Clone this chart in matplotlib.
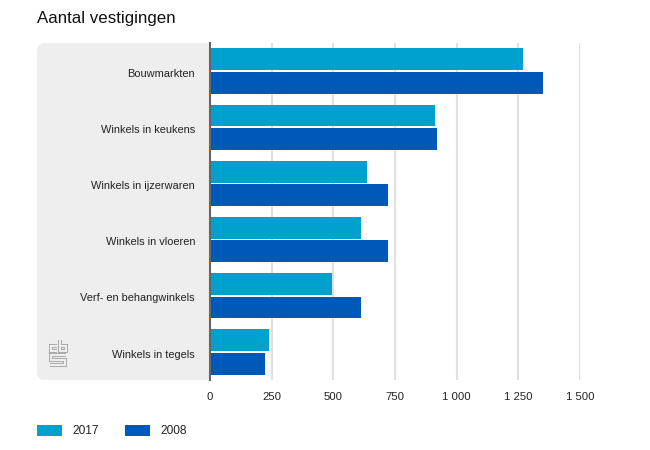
import matplotlib
matplotlib.use("Agg")
import matplotlib.pyplot as plt
import numpy as np
from matplotlib.patches import FancyBboxPatch, Rectangle

plt.rcParams['font.family'] = ['Liberation Sans', 'DejaVu Sans']

W, H = 650, 450

categories = ["Bouwmarkten", "Winkels in keukens", "Winkels in ijzerwaren",
              "Winkels in vloeren", "Verf- en behangwinkels", "Winkels in tegels"]
values_2017 = [1269, 912, 636, 612, 495, 240]
values_2008 = [1350, 920, 722, 722, 612, 223]
x_ticks = [0, 250, 500, 750, 1000, 1250, 1500]
x_labels = ["0", "250", "500", "750", "1 000", "1 250", "1 500"]

color_2017 = "#00a1cd"
color_2008 = "#0058b8"
grey_panel = "#eeeeee"
text_col = "#222222"


def fx(px):
    return px / W


def fy(py):
    return 1 - py / H


fig = plt.figure(figsize=(W / 100, H / 100), dpi=100)

# pixel coordinate layer for the panel, logo and legend
bg = fig.add_axes([0, 0, 1, 1])
bg.set_xlim(0, W)
bg.set_ylim(H, 0)
bg.axis("off")
panel = FancyBboxPatch((37, 43), 180, 337, boxstyle="round,pad=0,rounding_size=8",
                       fc=grey_panel, ec="none")
bg.add_patch(panel)
# panel is only rounded on the left
bg.add_patch(Rectangle((210, 40), 30, 345, fc="white", ec="none"))

# cbs logo, double stroke gives the outlined look
logo = [
    [(57, 346), (51, 346), (51, 351), (57, 351)],
    [(60, 340), (60, 351), (66, 351), (66, 346), (60, 346)],
    [(66, 355), (51, 355), (51, 360), (65, 360), (65, 365), (50, 365)],
]
for seg in logo:
    xs, ys = zip(*seg)
    bg.plot(xs, ys, color="#a8a8a8", lw=2.9, solid_joinstyle="miter", solid_capstyle="butt")
    bg.plot(xs, ys, color=grey_panel, lw=1.5, solid_joinstyle="miter", solid_capstyle="butt")

ax = fig.add_axes([fx(210), fy(380), fx(370), 337 / H])
ax.patch.set_alpha(0)
y = np.arange(len(categories))
ax.barh(y - 0.21, values_2017, height=0.39, color=color_2017, zorder=3)
ax.barh(y + 0.21, values_2008, height=0.39, color=color_2008, zorder=3)

ax.set_xlim(0, 1500)
ax.set_ylim(len(categories) - 0.5, -0.5)
ax.set_xticks(x_ticks)
ax.set_xticklabels(x_labels, fontsize=8.2, color=text_col)
# labels sit slightly under the group centre
ax.set_yticks(y + 0.03)
ax.set_yticklabels(categories, fontsize=7.9, color=text_col)
ax.tick_params(axis="both", length=0)
ax.tick_params(axis="x", pad=8.5)
ax.tick_params(axis="y", pad=10.8)
ax.grid(axis="x", color="#e0e0e0", lw=1.5, zorder=0)
for name in ["top", "right", "bottom"]:
    ax.spines[name].set_visible(False)
ax.spines["left"].set_color("#666666")
ax.spines["left"].set_linewidth(1.5)
ax.spines["left"].set_zorder(5)

fig.text(fx(37), fy(18), "Aantal vestigingen", fontsize=12.15, color="#111111", va="center")

# legend
bg.add_patch(Rectangle((37, 425), 25, 11, fc=color_2017, ec="none"))
bg.add_patch(Rectangle((125, 425), 25, 11, fc=color_2008, ec="none"))
fig.text(fx(72), fy(430.5), "2017", fontsize=8.6, color=text_col, va="center")
fig.text(fx(160), fy(430.5), "2008", fontsize=8.6, color=text_col, va="center")

fig.savefig("out.png", dpi=100)
